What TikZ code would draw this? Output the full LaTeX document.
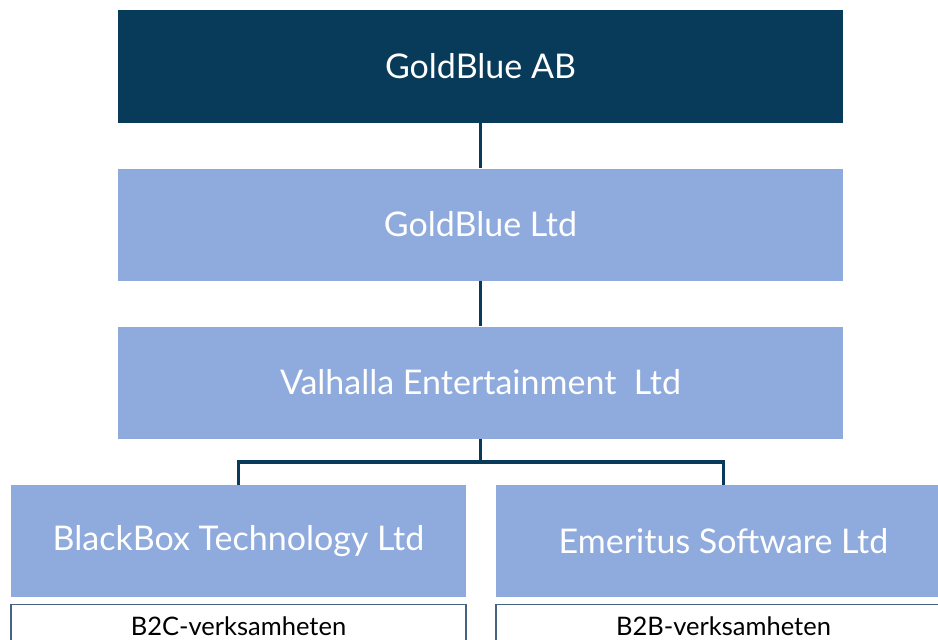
\documentclass[tikz,border=0pt]{standalone}
\usepackage{fontspec}
\setmainfont{Lato}
\usetikzlibrary{positioning,calc}
\definecolor{navy}{RGB}{8,58,90}
\definecolor{lightblue}{RGB}{143,170,220}
\definecolor{framegray}{RGB}{70,100,130}
\tikzset{font=\fontsize{34}{40}\selectfont}

\begin{document}
\begin{tikzpicture}[x=1pt,y=-1pt]
	\clip (0,0) rectangle (938,640);
	\useasboundingbox (0,0) rectangle (938,640);
	\begin{scope}
		\tikzstyle{every node}=[align=center, inner sep=0pt, text=white]
		\tikzstyle{company}=[fill=lightblue, minimum width=455pt, minimum height=112pt]
		\tikzstyle{area}=[draw=framegray, line width=1.2pt, fill=white, text=black,
			minimum width=455pt, minimum height=44pt, anchor=north,
			font=\fontsize{25.5}{30}\selectfont]
		\node (ab) [fill=navy, minimum width=725pt, minimum height=113pt] at (480.5, 66.5) {GoldBlue AB};
		\node (ltd) [company, minimum width=725pt] at (480.5, 224.5) {GoldBlue Ltd};
		\node (val) [company, minimum width=725pt] at (480.5, 382.5) {Valhalla Entertainment\ \ Ltd};

		\node (bb) [company] at (238.5, 541) {BlackBox Technology Ltd};
		\node (em) [company] at (723.5, 541) {Emeritus Software Ltd};

		\node (b2c) [area] at (238.5, 603.5) {B2C-verksamheten};
		\node (b2b) [area] at (723.5, 603.5) {B2B-verksamheten};

		\coordinate (split) at (480.5, 462);
		\draw [navy, line width=3.5pt] (ab) to (ltd);
		\draw [navy, line width=3.5pt] (ltd) to (val);
		\draw [navy, line width=3.5pt] (val) to (split) -| (bb);
		\draw [navy, line width=3.5pt] (split) -| (em);
	\end{scope}
\end{tikzpicture}
\end{document}
